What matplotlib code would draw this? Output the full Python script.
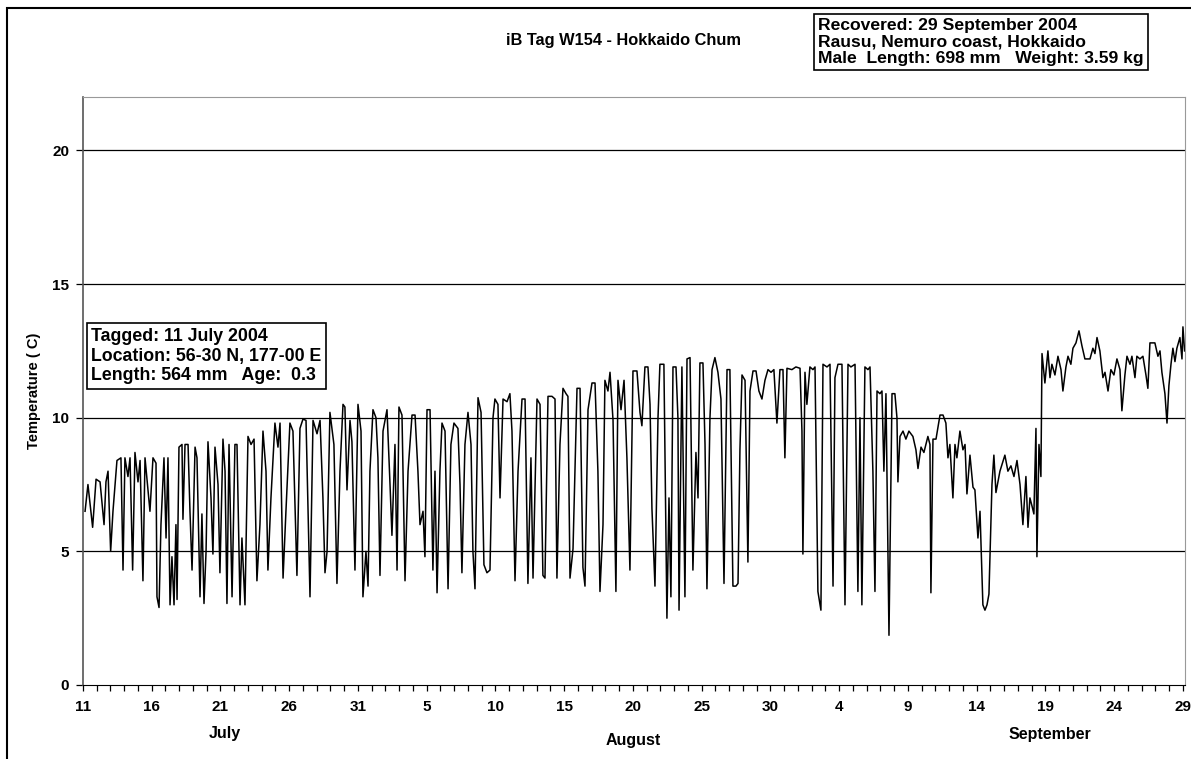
import matplotlib
matplotlib.use("Agg")
import matplotlib.pyplot as plt
from matplotlib.patches import Rectangle
import numpy as np

plt.rcParams['font.family'] = ['Liberation Sans', 'DejaVu Sans']

# (days since 11 July 2004, temperature C)
july = [(0.15, 6.5), (0.36, 7.5), (0.7, 5.9), (0.95, 7.7), (1.24, 7.6), (1.53, 6.0),
        (1.67, 7.6), (1.82, 8.0), (2.01, 5.0), (2.18, 6.5), (2.47, 8.4), (2.76, 8.5),
        (2.91, 4.3), (3.05, 8.5), (3.27, 7.8), (3.42, 8.5), (3.61, 4.3), (3.78, 8.7),
        (4.0, 7.6), (4.15, 8.4), (4.36, 3.9), (4.51, 8.5), (4.87, 6.5), (5.09, 8.5),
        (5.31, 8.3), (5.38, 3.3), (5.53, 2.9), (5.67, 6.0), (5.89, 8.5), (6.04, 5.5),
        (6.18, 8.5), (6.33, 3.0), (6.47, 4.8), (6.62, 3.0), (6.76, 6.0), (6.84, 3.2),
        (6.98, 8.9), (7.2, 9.0), (7.27, 6.2), (7.42, 9.0), (7.64, 9.0), (7.78, 6.5),
        (7.93, 4.3), (8.15, 8.9), (8.29, 8.5), (8.51, 3.3), (8.65, 6.4), (8.8, 3.05),
        (8.95, 5.0), (9.09, 9.1), (9.31, 7.0), (9.45, 4.9), (9.6, 8.9), (9.82, 7.5),
        (9.96, 4.2), (10.18, 9.2), (10.33, 8.0), (10.47, 3.05), (10.62, 9.0), (10.84, 3.3),
        (11.05, 9.0), (11.2, 9.0), (11.42, 3.0), (11.56, 5.5), (11.78, 3.0), (12.0, 9.3),
        (12.22, 9.0), (12.44, 9.2), (12.65, 3.9), (12.87, 6.0), (13.09, 9.5), (13.31, 8.0),
        (13.45, 4.3), (13.67, 7.0), (13.96, 9.8), (14.18, 8.9), (14.33, 9.8), (14.55, 4.0),
        (14.76, 6.5), (15.05, 9.8), (15.27, 9.5), (15.56, 4.1), (15.78, 9.6), (16.0, 9.95),
        (16.22, 9.9), (16.51, 3.3), (16.73, 9.9), (17.02, 9.4), (17.24, 9.9), (17.45, 7.0),
        (17.6, 4.2), (17.75, 5.0), (17.96, 10.2), (18.25, 9.0), (18.47, 3.8), (18.69, 8.0),
        (18.91, 10.5), (19.05, 10.4), (19.2, 7.3), (19.42, 9.9), (19.56, 9.1), (19.78, 4.3),
        (20.0, 10.5), (20.22, 9.5), (20.36, 3.3), (20.58, 5.0), (20.73, 3.7), (20.87, 8.0)]

august = [(21.09, 10.3), (21.31, 10.0), (21.45, 8.5), (21.6, 4.1), (21.82, 9.5), (22.11, 10.3),
          (22.33, 7.5), (22.47, 5.6), (22.69, 9.0), (22.84, 4.3), (22.98, 10.4), (23.2, 10.1),
          (23.42, 3.9), (23.64, 8.0), (23.93, 10.1), (24.15, 10.1), (24.36, 8.0), (24.51, 6.0),
          (24.73, 6.5), (24.87, 4.8), (25.02, 10.3), (25.24, 10.3), (25.45, 4.3), (25.6, 8.0),
          (25.75, 3.45), (25.96, 8.0), (26.11, 9.8), (26.33, 9.5), (26.55, 3.6), (26.76, 9.0),
          (26.98, 9.8), (27.27, 9.6), (27.42, 7.5), (27.56, 4.2), (27.78, 9.0), (28.0, 10.2),
          (28.22, 9.0), (28.36, 5.0), (28.51, 3.6), (28.73, 10.75), (28.95, 10.2), (29.16, 4.5),
          (29.38, 4.2), (29.6, 4.3), (29.82, 10.0), (29.96, 10.7), (30.18, 10.5), (30.33, 7.0),
          (30.55, 10.7), (30.84, 10.6), (31.05, 10.9), (31.2, 9.5), (31.42, 3.9), (31.64, 8.0),
          (31.93, 10.7), (32.15, 10.7), (32.36, 3.8), (32.58, 8.5), (32.73, 4.0), (33.02, 10.7),
          (33.24, 10.5), (33.45, 4.1), (33.6, 4.0), (33.82, 10.8), (34.11, 10.8), (34.33, 10.7),
          (34.47, 4.0), (34.69, 9.0), (34.91, 11.1), (35.13, 10.9), (35.27, 10.8), (35.42, 4.0),
          (35.64, 5.1), (35.93, 11.1), (36.15, 11.1), (36.36, 4.4), (36.51, 3.7), (36.73, 10.3),
          (37.02, 11.3), (37.24, 11.3), (37.45, 8.0), (37.6, 3.5), (37.82, 6.0), (37.96, 11.4),
          (38.18, 11.0), (38.33, 11.7), (38.55, 9.9), (38.76, 3.5), (38.91, 11.4), (39.13, 10.3),
          (39.35, 11.4), (39.56, 8.5), (39.78, 4.3), (40.0, 11.75), (40.29, 11.75), (40.51, 10.2),
          (40.65, 9.7), (40.87, 11.9), (41.09, 11.9), (41.24, 10.5), (41.38, 6.6), (41.6, 3.7),
          (41.82, 10.0), (41.96, 12.0), (42.25, 12.0), (42.47, 2.5), (42.62, 7.0), (42.76, 3.3),
          (42.91, 11.9), (43.13, 11.9), (43.27, 10.0), (43.35, 2.8), (43.56, 11.9), (43.78, 3.3),
          (43.93, 12.2), (44.15, 12.25), (44.36, 4.3), (44.58, 8.7), (44.73, 7.0), (44.87, 12.05),
          (45.09, 12.05), (45.24, 9.0), (45.38, 3.6), (45.6, 10.0), (45.75, 11.8), (45.96, 12.25),
          (46.18, 11.7), (46.4, 10.7), (46.62, 3.8), (46.84, 11.8), (47.05, 11.8), (47.27, 3.7),
          (47.49, 3.7), (47.64, 3.8), (47.78, 8.8), (47.93, 11.6), (48.15, 11.4), (48.36, 4.6),
          (48.51, 11.0), (48.73, 11.75), (48.95, 11.75), (49.16, 11.0), (49.38, 10.7), (49.6, 11.4),
          (49.82, 11.8), (50.04, 11.7), (50.25, 11.8), (50.47, 9.8), (50.69, 11.8), (50.91, 11.8),
          (51.05, 8.5), (51.2, 11.85), (51.56, 11.8), (51.85, 11.9)]

september = [(52.15, 11.85), (52.29, 9.5), (52.36, 4.9), (52.51, 11.7), (52.65, 10.5),
             (52.87, 11.9), (53.09, 11.8), (53.24, 11.9), (53.45, 3.5), (53.67, 2.8), (53.82, 12.0),
             (54.11, 11.9), (54.33, 12.0), (54.55, 3.7), (54.69, 11.5), (54.91, 12.0), (55.2, 12.0),
             (55.42, 3.0), (55.64, 12.0), (55.85, 11.9), (56.15, 12.0), (56.36, 3.5), (56.51, 10.0),
             (56.65, 3.0), (56.87, 11.9), (57.09, 11.8), (57.24, 11.9), (57.45, 8.0), (57.6, 3.5),
             (57.75, 11.0), (57.96, 10.9), (58.11, 11.0), (58.25, 8.0), (58.4, 10.9), (58.62, 1.86),
             (58.84, 10.9), (59.05, 10.9), (59.2, 10.0), (59.27, 7.6), (59.42, 9.3), (59.64, 9.5),
             (59.85, 9.2), (60.07, 9.5), (60.36, 9.3), (60.58, 8.8), (60.73, 8.1), (60.95, 8.9),
             (61.16, 8.7), (61.45, 9.3), (61.6, 9.0), (61.67, 3.45), (61.82, 9.2), (62.04, 9.2),
             (62.33, 10.1), (62.55, 10.1), (62.76, 9.8), (62.91, 8.5), (63.05, 9.0), (63.27, 7.0),
             (63.42, 9.0), (63.56, 8.5), (63.78, 9.5), (64.0, 8.8), (64.15, 9.0), (64.29, 7.15),
             (64.51, 8.6), (64.73, 7.4), (64.87, 7.3), (65.09, 5.5), (65.24, 6.5), (65.45, 3.0),
             (65.6, 2.8), (65.75, 3.0), (65.89, 3.4), (66.11, 7.5), (66.25, 8.6), (66.4, 7.2),
             (66.69, 8.0), (67.05, 8.6), (67.27, 8.0), (67.49, 8.2), (67.71, 7.8), (67.93, 8.4),
             (68.15, 7.5), (68.36, 6.0), (68.58, 7.8), (68.73, 5.9), (68.87, 7.0), (69.02, 6.7),
             (69.16, 6.4), (69.31, 9.6), (69.38, 4.8), (69.53, 9.0), (69.67, 7.8), (69.75, 12.4),
             (69.96, 11.3), (70.18, 12.5), (70.33, 11.5), (70.47, 12.0), (70.69, 11.6), (70.91, 12.3),
             (71.13, 11.8), (71.27, 11.0), (71.49, 11.9), (71.64, 12.3), (71.85, 12.0), (72.0, 12.6),
             (72.22, 12.8), (72.44, 13.25), (72.65, 12.7), (72.87, 12.2), (73.09, 12.2), (73.24, 12.2),
             (73.45, 12.6), (73.6, 12.4), (73.75, 13.0), (73.96, 12.5), (74.18, 11.5), (74.33, 11.7),
             (74.55, 11.0), (74.76, 11.8), (74.98, 11.6), (75.2, 12.2), (75.42, 11.8), (75.56, 10.26),
             (75.78, 11.6), (75.93, 12.3), (76.15, 12.0), (76.29, 12.3), (76.51, 11.5), (76.65, 12.3),
             (76.87, 12.2), (77.09, 12.3), (77.31, 11.6), (77.45, 11.1), (77.6, 12.8), (77.96, 12.8),
             (78.18, 12.3), (78.33, 12.5), (78.47, 11.7), (78.69, 10.9), (78.84, 9.8), (78.98, 11.2),
             (79.13, 12.0), (79.27, 12.6), (79.42, 12.1), (79.56, 12.6), (79.78, 13.0), (79.93, 12.2),
             (80.0, 13.4), (80.12, 12.5)]

tick_days = list(range(0, 81, 5))
tick_labels = ['11', '16', '21', '26', '31', '5', '10', '15', '20', '25', '30',
               '4', '9', '14', '19', '24', '29']
months = [('July', 10.3, -0.082), ('August', 40.0, -0.094), ('September', 70.3, -0.085)]

tagged = 'Tagged: 11 July 2004\nLocation: 56-30 N, 177-00 E\nLength: 564 mm   Age:  0.3'
recovered = ('Recovered: 29 September 2004\nRausu, Nemuro coast, Hokkaido\n'
             'Male  Length: 698 mm   Weight: 3.59 kg')

pts = np.array(july + august + september)
days, temp = pts[:, 0], pts[:, 1]

fig = plt.figure(figsize=(11.91, 7.59), dpi=100)
ax = fig.add_axes([83 / 1191, 1 - 685 / 759, (1185 - 83) / 1191, (685 - 97) / 759])

ax.plot(days, temp, color='black', lw=1.1)
ax.set_xlim(0, 80.15)
ax.set_ylim(0, 22)

for v in [5, 10, 15, 20]:
    ax.axhline(v, color='black', lw=0.9, zorder=0)

ax.set_yticks([0, 5, 10, 15, 20])
ax.set_yticklabels(['0', '5', '10', '15', '20'], fontsize=11, fontweight='bold')
ax.set_xticks(tick_days)
ax.set_xticklabels(tick_labels, fontsize=11, fontweight='bold')
ax.set_xticks(range(0, 81), minor=True)
ax.tick_params(axis='x', which='both', direction='out', length=4, width=0.9, pad=7)
ax.tick_params(axis='y', direction='out', length=5, width=0.9, pad=5)

for side in ['top', 'right']:
    ax.spines[side].set_color('#999999')
ax.spines['left'].set_color('#555555')
ax.spines['left'].set_linewidth(1.2)
ax.spines['bottom'].set_color('black')

ax.set_ylabel('Temperature ( C)', fontsize=10.5, fontweight='bold', labelpad=8)

for name, d, yy in months:
    ax.text(d, yy, name, transform=ax.get_xaxis_transform(), ha='center', va='center',
            fontsize=11.5, fontweight='bold')

fig.text(624 / 1191, 1 - 40 / 759, 'iB Tag W154 - Hokkaido Chum', ha='center', va='center',
         fontsize=11.8, fontweight='bold')

box = dict(boxstyle='square,pad=0.25', facecolor='white', edgecolor='black', lw=1.2)
fig.text(818 / 1191, 1 - 42 / 759, recovered, ha='left', va='center', fontsize=12.6,
         fontweight='bold', linespacing=1.12, bbox=box)
fig.text(91 / 1191, 1 - 356 / 759, tagged, ha='left', va='center', fontsize=12.8,
         fontweight='bold', linespacing=1.22, bbox=box, zorder=5)

fig.patches.append(Rectangle((7 / 1191, -0.1), 2, 1.1 - 8 / 759, transform=fig.transFigure,
                             fill=False, edgecolor='black', lw=1.5))

fig.savefig('out.png', dpi=100)
